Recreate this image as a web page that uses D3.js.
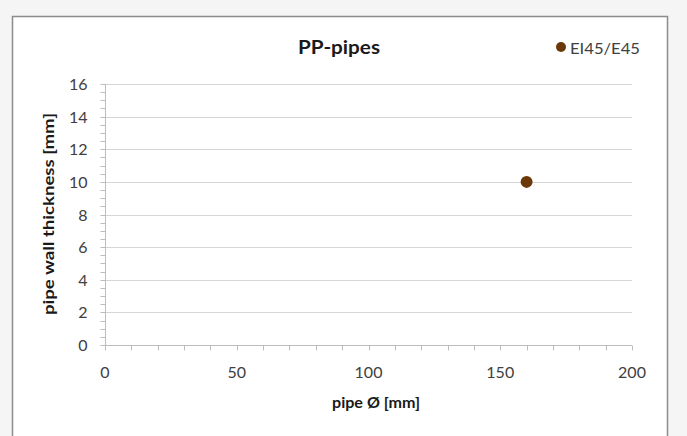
<!DOCTYPE html>
<html><head><meta charset="utf-8">
<script src="https://cdn.jsdelivr.net/npm/d3@7"></script>
<style>
body{margin:0;background:#fff;}
svg{display:block;}
text{font-family:Lato,"Open Sans",sans-serif;}
</style></head>
<body>
<script>
const seriesName = ["EI45/E45"];
const pipeDiameter = [160];
const wallThickness = [10];
const xTicks = [0, 50, 100, 150, 200];
const yTicks = [0, 2, 4, 6, 8, 10, 12, 14, 16];

const W = 687, H = 436;
const svg = d3.select("body").append("svg").attr("width", W).attr("height", H);

svg.append("rect").attr("x", 0).attr("y", 0).attr("width", W).attr("height", H).attr("fill", "#f5f5f5");
svg.append("rect").attr("x", 12.5).attr("y", 16.5).attr("width", 655).attr("height", 421)
  .attr("fill", "#fff").attr("stroke", "#8c8c8c").attr("stroke-width", 1.5);

const x = d3.scaleLinear().domain([0, 200]).range([105, 632]);
const y = d3.scaleLinear().domain([0, 16]).range([345, 84]);

// gridlines
svg.append("g").selectAll("line").data(yTicks.filter(d => d > 0)).join("line")
  .attr("x1", x(0)).attr("x2", x(200)).attr("y1", d => Math.round(y(d)) + 0.5).attr("y2", d => Math.round(y(d)) + 0.5)
  .attr("stroke", "#d6d6d6").attr("stroke-width", 1);

// x axis
const xAxis = svg.append("g").attr("transform", `translate(0,${Math.round(y(0)) + 0.5})`);
xAxis.append("line").attr("x1", x(0)).attr("x2", x(200)).attr("stroke", "#bdbdbd");
xAxis.selectAll("line.t").data(d3.range(0, 201, 10)).join("line").attr("class", "t")
  .attr("x1", d => Math.round(x(d)) + 0.5).attr("x2", d => Math.round(x(d)) + 0.5).attr("y1", 0).attr("y2", 5)
  .attr("stroke", "#bdbdbd");
xAxis.selectAll("text").data(xTicks).join("text")
  .attr("x", d => x(d)).attr("y", 32).attr("text-anchor", "middle")
  .attr("font-size", 16).attr("fill", "#404040").text(d => d);

// y axis
const yAxis = svg.append("g").attr("transform", `translate(${Math.round(x(0)) + 0.5},0)`);
yAxis.append("line").attr("y1", y(0)).attr("y2", y(16)).attr("stroke", "#bdbdbd");
yAxis.selectAll("line.t").data(d3.range(0, 16.01, 0.5)).join("line").attr("class", "t")
  .attr("y1", d => Math.round(y(d)) + 0.5).attr("y2", d => Math.round(y(d)) + 0.5)
  .attr("x1", -5).attr("x2", 0).attr("stroke", "#bdbdbd");
yAxis.selectAll("text").data(yTicks).join("text")
  .attr("x", -18).attr("y", d => y(d) + 6).attr("text-anchor", "end")
  .attr("font-size", 16).attr("fill", "#404040").text(d => d);

// data points
svg.append("g").selectAll("circle").data(pipeDiameter.map((d, i) => [d, wallThickness[i]])).join("circle")
  .attr("cx", d => x(d[0])).attr("cy", d => y(d[1])).attr("r", 6).attr("fill", "#6b3807");

// title
svg.append("text").attr("x", 339).attr("y", 54).attr("text-anchor", "middle")
  .attr("font-size", 19).attr("font-weight", "bold").attr("fill", "#1a1a1a")
  .attr("textLength", 82).attr("lengthAdjust", "spacingAndGlyphs").text("PP-pipes");

// legend
svg.append("circle").attr("cx", 561).attr("cy", 47).attr("r", 5).attr("fill", "#6b3807");
svg.append("text").attr("x", 570).attr("y", 54).attr("font-size", 16).attr("fill", "#404040")
  .attr("textLength", 70).attr("lengthAdjust", "spacingAndGlyphs").text(seriesName[0]);

// axis titles
svg.append("text").attr("x", 376).attr("y", 408).attr("text-anchor", "middle")
  .attr("font-size", 16).attr("font-weight", "bold").attr("fill", "#1a1a1a")
  .attr("textLength", 88).attr("lengthAdjust", "spacingAndGlyphs").text("pipe Ø [mm]");
svg.append("text").attr("transform", "translate(54,214) rotate(-90)").attr("text-anchor", "middle")
  .attr("font-size", 16).attr("font-weight", "bold").attr("fill", "#1a1a1a")
  .attr("textLength", 202).attr("lengthAdjust", "spacingAndGlyphs").text("pipe wall thickness [mm]");
</script>
</body></html>
